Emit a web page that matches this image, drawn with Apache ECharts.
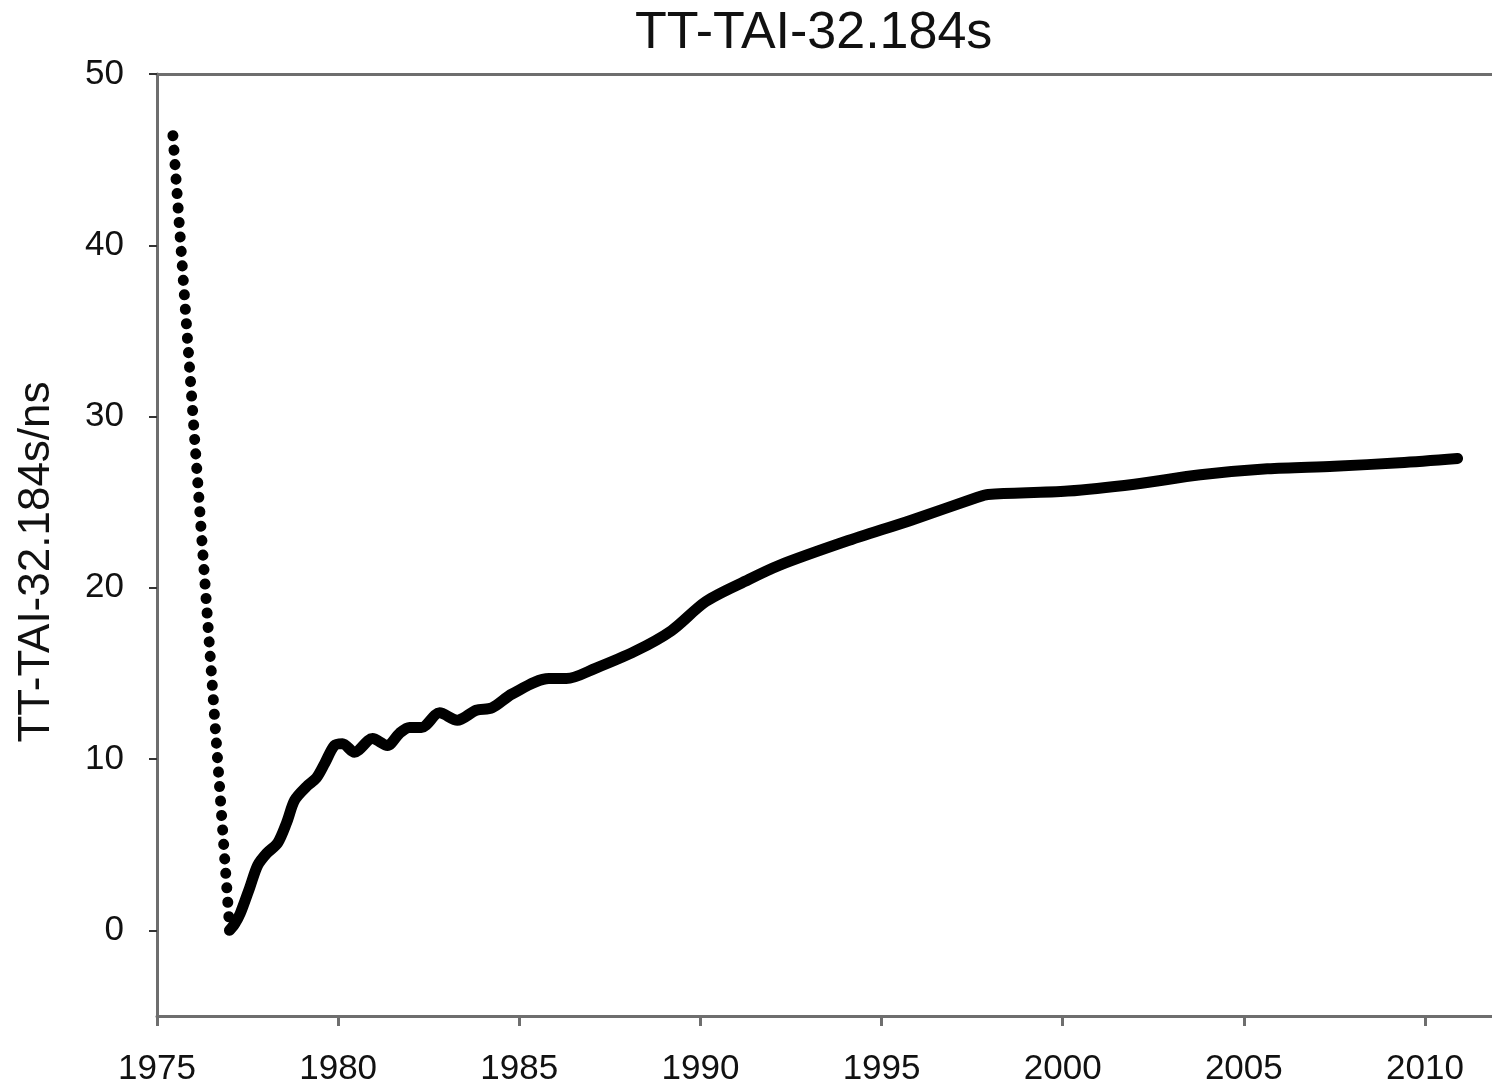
<!DOCTYPE html>
<html>
<head>
<meta charset="utf-8">
<script src="https://cdn.jsdelivr.net/npm/echarts@6/dist/echarts.min.js"></script>
<style>
html,body{margin:0;padding:0;background:#fff;overflow:hidden;}
#chart{width:1492px;height:1087px;}
</style>
</head>
<body>
<div id="chart"></div>
<script>
// Data
var titleText = 'TT-TAI-32.184s';
var yAxisTitle = 'TT-TAI-32.184s/ns';
var xTickLabels = [1975, 1980, 1985, 1990, 1995, 2000, 2005, 2010];
var yTickLabels = [0, 10, 20, 30, 40, 50];

// dotted segment (early extrapolation)
var dottedYears = [1975.44, 1977.0];
var dottedValues = [46.4, 0.3];

// solid curve
var solidYears = [1977.0, 1977.15, 1977.3, 1977.56, 1977.78, 1978.03, 1978.33, 1978.58, 1978.8, 1979.13,
  1979.4, 1979.63, 1979.9, 1980.12, 1980.45, 1980.95, 1981.36, 1981.69, 1981.97, 1982.3,
  1982.8, 1983.29, 1983.81, 1984.25, 1984.8, 1985.82, 1986.3, 1987.1, 1988.2, 1989.2,
  1990.15, 1991.25, 1992.16, 1994.0, 1995.82, 1997.67, 1997.94, 2000.14, 2001.98, 2003.8,
  2005.65, 2007.5, 2009.3, 2010.9];
var solidValues = [0.0, 0.4, 1.0, 2.5, 3.8, 4.5, 5.1, 6.3, 7.6, 8.4,
  8.9, 9.75, 10.8, 10.9, 10.4, 11.2, 10.8, 11.5, 11.85, 11.85,
  12.7, 12.27, 12.85, 13.0, 13.8, 14.7, 14.7, 15.3, 16.3, 17.5,
  19.2, 20.4, 21.3, 22.7, 23.95, 25.3, 25.45, 25.65, 26.05, 26.6,
  26.95, 27.1, 27.3, 27.55];

function zip(a, b) { return a.map(function (v, i) { return [v, b[i]]; }); }

var fontFam = '"Liberation Sans", Arial, Helvetica, sans-serif';
var axisGrey = '#6e6e6e';
var xMin = 1975, xMax = 2011.85;

var chart = echarts.init(document.getElementById('chart'), null, {renderer: 'canvas'});
chart.setOption({
  backgroundColor: '#ffffff',
  animation: false,
  title: {
    text: titleText,
    left: 630,
    top: 3,
    textStyle: {fontFamily: fontFam, fontSize: 52, fontWeight: 'normal', color: '#111'}
  },
  grid: {left: 157, right: -3, top: 74, bottom: 71, containLabel: false},
  xAxis: [{
    type: 'value',
    min: xMin,
    max: xMax,
    interval: 5,
    position: 'bottom',
    splitLine: {show: false},
    axisLine: {onZero: false, lineStyle: {color: axisGrey, width: 3}},
    axisTick: {show: true, length: 10, customValues: xTickLabels, lineStyle: {color: axisGrey, width: 3}},
    axisLabel: {customValues: xTickLabels, margin: 36, fontFamily: fontFam, fontSize: 35, color: '#111',
      formatter: function (v) { return String(v); }}
  }, {
    type: 'value',
    min: xMin,
    max: xMax,
    position: 'top',
    splitLine: {show: false},
    axisLine: {onZero: false, lineStyle: {color: axisGrey, width: 3}},
    axisTick: {show: false},
    axisLabel: {show: false}
  }],
  yAxis: {
    type: 'value',
    min: -5,
    max: 50,
    interval: 5,
    name: yAxisTitle,
    nameLocation: 'middle',
    nameGap: 98,
    nameTextStyle: {fontFamily: fontFam, fontSize: 44, color: '#111', padding: [0, 34, 0, 0]},
    splitLine: {show: false},
    axisLine: {onZero: false, lineStyle: {color: axisGrey, width: 3}},
    axisTick: {show: true, length: 8, customValues: yTickLabels, lineStyle: {color: '#333', width: 2}},
    axisLabel: {customValues: yTickLabels, margin: 33, fontFamily: fontFam, fontSize: 35, color: '#111'}
  },
  series: [{
    type: 'line',
    data: zip(dottedYears, dottedValues),
    showSymbol: false,
    symbol: 'none',
    lineStyle: {color: '#000', width: 11, type: [0.1, 14.4], cap: 'round'},
    z: 3
  }, {
    type: 'line',
    data: zip(solidYears, solidValues),
    showSymbol: false,
    symbol: 'none',
    smooth: 0.3,
    lineStyle: {color: '#000', width: 11, cap: 'round', join: 'round'},
    z: 4
  }]
});
</script>
</body>
</html>
